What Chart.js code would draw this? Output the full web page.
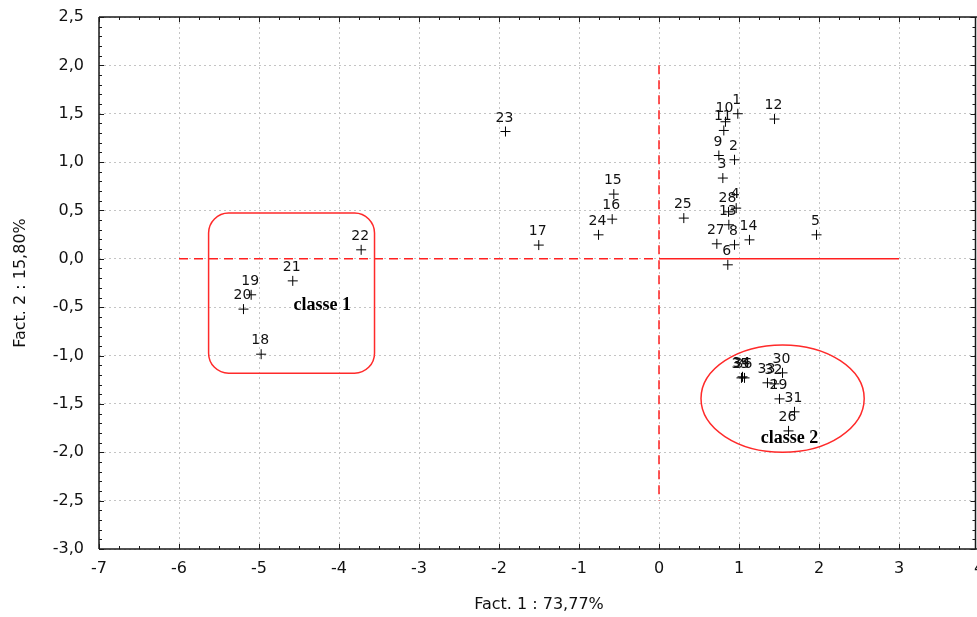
<!DOCTYPE html>
<html><head><meta charset="utf-8">
<script src="https://cdn.jsdelivr.net/npm/chart.js@4/dist/chart.umd.min.js"></script>
<style>html,body{margin:0;padding:0;background:#fff;overflow:hidden;width:977px;height:617px}
canvas{display:block}</style></head>
<body><canvas id="c" width="990" height="617"></canvas>
<script>
// ---- data ----
const pointIds = ['1','2','3','4','5','6','8','9','10','11','12','13','14','15','16','17','18','19','20','21','22','23','24','25','26','27','28','29','30','31','32','33','34','35','36'];
const fact1 = [0.985,0.944,0.798,0.965,1.969,0.86,0.944,0.748,0.831,0.81,1.444,0.873,1.131,-0.565,-0.585,-1.503,-4.973,-5.098,-5.194,-4.578,-3.723,-1.919,-0.756,0.31,1.619,0.723,0.869,1.506,1.544,1.694,1.444,1.356,1.044,1.031,1.069];
const fact2 = [1.50,1.024,0.835,0.524,0.248,-0.062,0.145,1.068,1.417,1.327,1.445,0.352,0.196,0.669,0.41,0.142,-0.986,-0.372,-0.52,-0.228,0.093,1.316,0.248,0.421,-1.779,0.155,0.486,-1.448,-1.179,-1.582,-1.293,-1.282,-1.220,-1.231,-1.231];
const xAxisTitle = 'Fact. 1 : 73,77%';
const yAxisTitle = 'Fact. 2 : 15,80%';
const hLineDashedX = [-6, 0];
const hLineSolidX = [0, 3];
const vLineY = [2.0, -2.5];
const classLabels = ['classe 1', 'classe 2'];

// annotation geometry (data units)
const annot = {
  box: {x0: -5.63, x1: -3.556, y0: 0.473, y1: -1.182, r: 20},
  ell: {cx: 1.545, cy: -1.445, rx: 1.02, ry: 0.555},
  t1: {x: -4.209, y: -0.486},
  t2: {x: 1.631, y: -1.861},
  rightEdge: 3.95
};

const pts = fact1.map((x, i) => ({x, y: fact2[i]}));

const fmtY = v => (Math.round(v * 10) / 10).toFixed(1).replace('.', ',').replace('-0,0', '0,0');

const framePlugin = {
  id: 'frame',
  afterDatasetsDraw(chart) {
    const {ctx, chartArea: a, scales: {x, y}} = chart;
    ctx.save();
    // annotations
    ctx.strokeStyle = '#ff2a2a'; ctx.lineWidth = 1.5; ctx.setLineDash([]);
    const bx0 = x.getPixelForValue(annot.box.x0), bx1 = x.getPixelForValue(annot.box.x1);
    const by0 = y.getPixelForValue(annot.box.y0), by1 = y.getPixelForValue(annot.box.y1);
    ctx.beginPath(); ctx.roundRect(bx0, by0, bx1 - bx0, by1 - by0, annot.box.r); ctx.stroke();
    const ecx = x.getPixelForValue(annot.ell.cx), ecy = y.getPixelForValue(annot.ell.cy);
    const erx = x.getPixelForValue(annot.ell.cx + annot.ell.rx) - ecx;
    const ery = ecy - y.getPixelForValue(annot.ell.cy + annot.ell.ry);
    ctx.beginPath(); ctx.ellipse(ecx, ecy, erx, ery, 0, 0, Math.PI * 2); ctx.stroke();
    ctx.fillStyle = '#000'; ctx.font = 'bold 18px "Liberation Serif"'; ctx.textAlign = 'center'; ctx.textBaseline = 'middle';
    ctx.fillText(classLabels[0], x.getPixelForValue(annot.t1.x), y.getPixelForValue(annot.t1.y));
    ctx.fillText(classLabels[1], x.getPixelForValue(annot.t2.x), y.getPixelForValue(annot.t2.y));
    // point labels
    const meta = chart.getDatasetMeta(0);
    ctx.font = '14px "DejaVu Sans"'; ctx.fillStyle = '#111'; ctx.textBaseline = 'alphabetic';
    meta.data.forEach((el, i) => { ctx.fillText(pointIds[i], el.x - 1, el.y - 10); });
    // frame
    const right = Math.round(x.getPixelForValue(annot.rightEdge)) + 0.5;
    ctx.strokeStyle = '#1a1a1a'; ctx.lineWidth = 1.5;
    ctx.beginPath();
    ctx.moveTo(a.left, a.top); ctx.lineTo(a.right, a.top);
    ctx.moveTo(a.left, a.bottom); ctx.lineTo(a.right, a.bottom);
    ctx.moveTo(a.left, a.top); ctx.lineTo(a.left, a.bottom);
    ctx.moveTo(right, a.top); ctx.lineTo(right, a.bottom);
    ctx.stroke();
    ctx.lineWidth = 1;
    ctx.beginPath();
    for (let k = 0; k <= 44; k++) {
      const v = x.min + k * 0.25; const px = Math.round(x.getPixelForValue(v)) + 0.5;
      const len = (k % 4 === 0) ? 5 : 3;
      ctx.moveTo(px, a.top); ctx.lineTo(px, a.top + len);
      ctx.moveTo(px, a.bottom); ctx.lineTo(px, a.bottom - len);
    }
    for (let k = 0; k <= 55; k++) {
      const v = y.min + k * 0.1; const py = Math.round(y.getPixelForValue(v)) + 0.5;
      const len = (k % 5 === 0) ? 5 : 3;
      ctx.moveTo(a.left, py); ctx.lineTo(a.left + len, py);
      ctx.moveTo(right, py); ctx.lineTo(right - len, py);
    }
    ctx.stroke();
    ctx.restore();
  }
};

new Chart(document.getElementById('c'), {
  type: 'scatter',
  data: {
    datasets: [
      {data: pts, pointStyle: 'cross', pointRadius: 5, pointBorderColor: '#000', pointBorderWidth: 1, borderColor: '#000', showLine: false},
      {data: hLineDashedX.map(v => ({x: v, y: 0})), showLine: true, borderColor: '#ff2020', borderWidth: 1.5, borderDash: [9, 6], pointRadius: 0},
      {data: hLineSolidX.map(v => ({x: v, y: 0})), showLine: true, borderColor: '#ff2020', borderWidth: 1.5, pointRadius: 0},
      {data: vLineY.map(v => ({x: 0, y: v})), showLine: true, borderColor: '#ff2020', borderWidth: 1.5, borderDash: [9, 6], pointRadius: 0}
    ]
  },
  options: {
    responsive: false, animation: false,
    layout: {padding: {left: 0, top: 17, right: 11, bottom: 0}},
    plugins: {legend: {display: false}, tooltip: {enabled: false}},
    scales: {
      x: {
        type: 'linear', min: -7, max: 4,
        afterFit: s => { s.height = 68; s.paddingLeft = 0; s.paddingRight = 0; },
        ticks: {stepSize: 1, color: '#111', font: {family: 'DejaVu Sans', size: 16}, padding: 10, callback: v => String(v)},
        grid: {color: '#c4c4c4', lineWidth: 1, drawTicks: false},
        border: {display: false, dash: [2, 3]},
        title: {display: true, text: xAxisTitle, color: '#111', font: {family: 'DejaVu Sans', size: 16}, padding: {top: 0, bottom: 3}}
      },
      y: {
        type: 'linear', min: -3, max: 2.5,
        afterFit: s => { s.width = 99; s.paddingTop = 0; s.paddingBottom = 0; },
        ticks: {stepSize: 0.5, color: '#111', font: {family: 'DejaVu Sans', size: 16}, padding: 15, callback: v => fmtY(v)},
        grid: {color: '#c4c4c4', lineWidth: 1, drawTicks: false},
        border: {display: false, dash: [2, 3]},
        title: {display: true, text: yAxisTitle, color: '#111', font: {family: 'DejaVu Sans', size: 16}, padding: {top: 11, bottom: 0}}
      }
    }
  },
  plugins: [framePlugin]
});
</script>
</body></html>
